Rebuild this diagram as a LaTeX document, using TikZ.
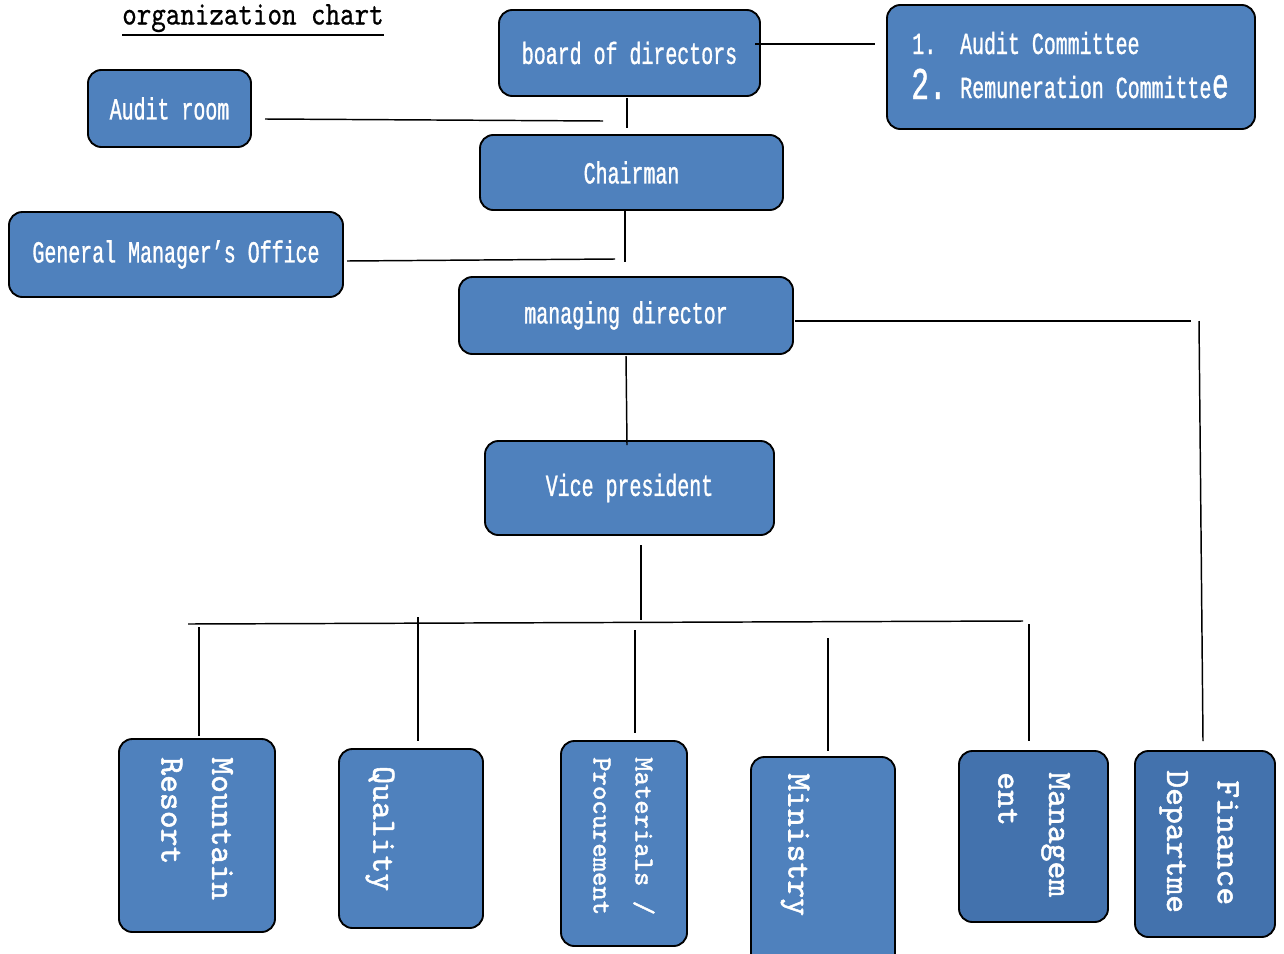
\documentclass[tikz,border=0pt]{standalone}
\usepackage{fontspec}
\usetikzlibrary{fit}
\newfontfamily\boxfont{Liberation Mono}[FakeStretch=0.65,FakeBold=1]
\newfontfamily\titlefont{lmmono10-regular}[Extension=.otf,FakeStretch=0.83,FakeBold=0.6]
\newfontfamily\vfont{lmmono10-regular}[Extension=.otf,FakeBold=1.5]
\definecolor{boxblue}{HTML}{4F81BD}
\definecolor{boxdark}{HTML}{4372AD}
\begin{document}
\begin{tikzpicture}[x=0.75pt,y=-0.75pt,
  box/.style={draw=black, line width=1.4pt, fill=boxblue, rounded corners=10pt, inner sep=0pt},
  darkbox/.style={box, fill=boxdark},
  conn/.style={line width=1.1pt},
  btext/.style={text=white, inner sep=0pt, font=\boxfont\fontsize{23}{26}\selectfont},
  vtext/.style={rotate=-90, anchor=west, align=left, text=white, inner sep=0pt, font=\vfont\fontsize{25.5}{38}\selectfont}]
\useasboundingbox (0,0) rectangle (1284,953);
% title
\node[anchor=base west, inner sep=0pt, font=\titlefont\fontsize{25}{27}\selectfont] (title) at (122,24.5) {organization chart};
\draw[line width=1.5pt] (title.south west) ++(0,3) coordinate (ula) -- (ula -| title.south east);
% top boxes
\node[box, fit={(499,10) (760,96)}] (bod) {};
\node[btext] (bodt) at (bod.center) {board of directors};
\node[box, fit={(887,5) (1255,129)}] (com) {};
\node[btext, anchor=base west] (c1) at (912,54) {1.\ \ Audit Committee};
\node[btext, anchor=base west, font=\boxfont\fontsize{34}{36}\selectfont] (c2n) at (911,99) {2.};
\node[btext, anchor=base west] (c2) at (960,98) {Remuneration Committe};
\node[btext, anchor=base west, font=\boxfont\fontsize{32}{34}\selectfont] (c2e) at (c2.base east) {e};
\node[box, fit={(88,70) (251,147)}] (audit) {};
\node[btext] (auditt) at (audit.center) {Audit room};
\node[box, fit={(480,135) (783,210)}] (chair) {};
\node[btext] (chairt) at (chair.center) {Chairman};
\node[box, fit={(9,212) (343,297)}] (gm) {};
\node[btext] (gmt) at (gm.center) {General Manager’s Office};
\node[box, fit={(459,277) (793,354)}] (md) {};
\node[btext] (mdt) at (md.center) {managing director};
\node[box, fit={(485,441) (774,535)}] (vp) {};
\node[btext] (vpt) at (vp.center) {Vice president};
% bottom boxes
\node[box, fit={(119,739) (275,932)}] (mr) {};
\node[vtext] (mrt) at (197,757) {Mountain\\Resort};
\node[box, fit={(339,749) (483,928)}] (qu) {};
\node[vtext] (qut) at (380,766) {Quality};
\node[box, fit={(561,741) (687,946)}] (mp) {};
\node[vtext, font=\vfont\fontsize{20.5}{31.5}\selectfont] (mpt) at (624,757) {Materials /\\Procurement};
\node[box, fit={(751,757) (895,975)}] (mi) {};
\node[vtext] (mit) at (795,773) {Ministry};
\node[darkbox, fit={(959,751) (1108,922)}] (mg) {};
\node[vtext] (mgt) at (1034,772) {Managem\\ent};
\node[darkbox, fit={(1135,751) (1275,937)}] (fd) {};
\node[vtext] (fdt) at (1199,770) {\hspace*{7.5pt}Finance\\Departme};
% connectors
\coordinate (k1) at (875,44);
\draw[conn] (755,44) -- (k1);
\draw[conn] (627,98) -- (627,128);
\coordinate (k2) at (603,121);
\draw[conn] (265,119) -- (k2);
\draw[conn] (625,210) -- (625,262);
\coordinate (k3) at (615,259);
\draw[conn] (347,261) -- (k3);
\draw[conn] (626,356) -- (627,445);
\coordinate (k4) at (1191,321);
\draw[conn] (795,321) -- (k4);
\coordinate (k5) at (1203,741);
\draw[conn] (1199,321) -- (k5);
\draw[conn] (641,545) -- (641,620);
\draw[conn] (188,624) -- (1023,621);
\draw[conn] (199,627) -- (199,736);
\draw[conn] (418,617) -- (418,741);
\draw[conn] (635,630) -- (635,733);
\draw[conn] (828,638) -- (828,751);
\draw[conn] (1029,624) -- (1029,741);
\end{tikzpicture}
\end{document}
